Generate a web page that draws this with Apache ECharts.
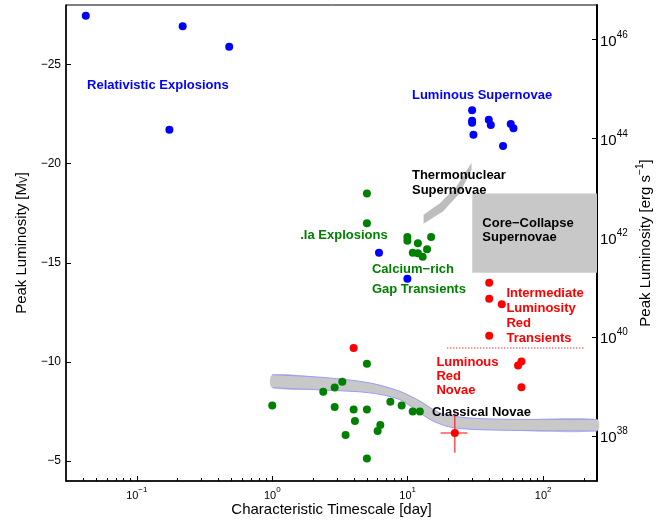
<!DOCTYPE html>
<html>
<head>
<meta charset="utf-8">
<script src="https://cdn.jsdelivr.net/npm/echarts@6.0.0/dist/echarts.min.js"></script>
<style>
  html, body { margin: 0; padding: 0; background: #fff; }
  #chart { width: 667px; height: 520px; }
</style>
</head>
<body>
<div id="chart"></div>
<script>
// ---- data (x: timescale in days, y: peak absolute magnitude M_V) ----
const blueEvents = [
  [0.042, -27.46], [0.218, -26.93], [0.481, -25.89], [0.174, -21.71],
  [29.9, -22.69], [29.9, -22.16], [29.9, -22.06], [30.6, -21.46], [39.7, -22.21],
  [41.1, -21.95], [57.7, -22.0], [60.4, -21.78], [50.6, -20.89],
  [6.14, -15.51], [9.95, -14.2]
];
const greenEvents = [
  [5.0, -18.49], [5.0, -17.0], [9.95, -16.3], [9.95, -16.11], [11.9, -15.99],
  [14.9, -16.3], [13.9, -15.69], [10.9, -15.51], [11.9, -15.48], [12.9, -15.31],
  [1.0, -7.81], [2.38, -8.5], [2.89, -8.72], [2.89, -7.73], [3.29, -9.0],
  [5.0, -9.91], [5.0, -7.61], [5.0, -5.13], [3.99, -7.61], [4.08, -7.02],
  [3.48, -6.32], [6.28, -6.82], [6.0, -6.52], [7.45, -8.0], [9.03, -7.81],
  [10.9, -7.51], [12.3, -7.51]
];
const redEvents = [
  [40, -14.0], [40, -13.19], [49.5, -12.91], [40, -11.32], [3.99, -10.71],
  [69.2, -10.03], [65.3, -9.82], [69.2, -8.73], [22.3, -6.42]
];
// error bars of the red point at 22 days
const errPoint = [22.3, -6.42];
const errX = [17.5, 27.6];
const errY = [-7.41, -5.43];
// ILRT lower bound (dotted)
const ilrtLine = [[19.6, -10.71], [200, -10.71]];

// shaded regions
const coreCollapseBox = [[30, -18.5], [250, -14.5]];
const thermoUpper = [[13.1, -17.42], [17.3, -18.01], [22.9, -18.84], [29.6, -20.05]];
const thermoLower = [[13.1, -16.97], [18.2, -17.59], [24.2, -18.51], [29.6, -19.68]];
const novaeUpper = [[1, -9.36], [2.5, -9.21], [5.2, -8.95], [8.7, -8.53], [12.3, -8.03],
  [17.2, -7.44], [27, -7.19], [57, -7.11], [250, -7.11]];
const novaeLower = [[1, -8.7], [2.5, -8.58], [5.2, -8.45], [8.7, -8.11], [12.3, -7.44],
  [15.4, -7.02], [21.6, -6.69], [43, -6.57], [250, -6.52]];

// text annotations: [day, mag (top of text), text, colour, lineHeight]
const annotations = [
  [0.0429, -24.34, 'Relativistic Explosions', '#0000ff', 15],
  [10.76, -23.83, 'Luminous Supernovae', '#0000ff', 15],
  [10.76, -19.81, 'Thermonuclear\nSupernovae', '#000000', 15],
  [35.6, -17.34, 'Core\u2212Collapse\nSupernovae', '#000000', 14.3],
  [1.61, -16.74, '.Ia Explosions', '#008000', 15],
  [5.45, -15.07, 'Calcium\u2212rich', '#008000', 15],
  [5.45, -14.06, 'Gap Transients', '#008000', 15],
  [53.6, -13.86, 'Intermediate\nLuminosity\nRed\nTransients', '#ff0000', 15.2],
  [16.3, -10.34, 'Luminous\nRed\nNovae', '#ff0000', 14],
  [15.1, -7.82, 'Classical Novae', '#000000', 15]
];

// axes
const xMin = 0.03, xMax = 250;
const xMajorTicks = [0.1, 1, 10, 100];
const xMinorTicks = [0.04, 0.05, 0.06, 0.07, 0.08, 0.09, 0.2, 0.3, 0.4, 0.5, 0.6, 0.7, 0.8, 0.9,
  2, 3, 4, 5, 6, 7, 8, 9, 20, 30, 40, 50, 60, 70, 80, 90, 200];
const yMin = -28, yMax = -4;
const yTicks = [-25, -20, -15, -10, -5];
const lumTicks = [38, 40, 42, 44, 46]; // log10 of erg/s
const magAt1e38 = -6.26;

const FONT = '"Liberation Sans", Arial, Helvetica, sans-serif';
const lg = (v) => Math.log10(v);
const lumAt = (m) => 38 - 0.4 * (m - magAt1e38);
const minus = (v) => (v < 0 ? '\u2212' + (-v) : '' + v);
const xy = (p) => [lg(p[0]), p[1]];

function polygonSeries(points, fill, stroke) {
  return {
    type: 'custom', silent: true, z: 1, data: [0],
    renderItem: function (params, api) {
      return {
        type: 'polygon',
        shape: { points: points.map((p) => api.coord(xy(p))) },
        style: { fill: fill, stroke: stroke || 'none', lineWidth: 1 }
      };
    }
  };
}

const novaeSeries = {
  type: 'custom', silent: true, z: 1, data: [0],
  renderItem: function (params, api) {
    const up = novaeUpper.map((p) => api.coord(xy(p)));
    const lo = novaeLower.map((p) => api.coord(xy(p)));
    return {
      type: 'group',
      children: [
        { type: 'polygon', shape: { points: up.concat(lo.slice().reverse()), smooth: 0.3 }, style: { fill: '#c8c8c8' } },
        { type: 'polyline', shape: { points: up, smooth: 0.3 }, style: { stroke: '#9a9aff', lineWidth: 1, fill: 'none' } },
        { type: 'polyline', shape: { points: lo, smooth: 0.3 }, style: { stroke: '#9a9aff', lineWidth: 1, fill: 'none' } }
      ]
    };
  }
};

const ccBox = [
  coreCollapseBox[0], [coreCollapseBox[1][0], coreCollapseBox[0][1]],
  coreCollapseBox[1], [coreCollapseBox[0][0], coreCollapseBox[1][1]]
];

const errorSeries = {
  type: 'custom', silent: true, z: 3, data: [0],
  renderItem: function (params, api) {
    const l = api.coord([lg(errX[0]), errPoint[1]]);
    const r = api.coord([lg(errX[1]), errPoint[1]]);
    const t = api.coord([lg(errPoint[0]), errY[0]]);
    const b = api.coord([lg(errPoint[0]), errY[1]]);
    return {
      type: 'group',
      children: [
        { type: 'line', shape: { x1: l[0], y1: l[1], x2: r[0], y2: r[1] }, style: { stroke: '#ff8080', lineWidth: 2 } },
        { type: 'line', shape: { x1: t[0], y1: t[1], x2: b[0], y2: b[1] }, style: { stroke: '#ff0000', lineWidth: 1 } }
      ]
    };
  }
};

const labelSeries = {
  type: 'custom', silent: true, z: 10,
  data: annotations.map((a) => [lg(a[0]), a[1]]),
  renderItem: function (params, api) {
    const a = annotations[params.dataIndex];
    const p = api.coord([api.value(0), api.value(1)]);
    return {
      type: 'text', x: p[0], y: p[1],
      style: {
        text: a[2], fill: a[3], fontSize: 13, fontWeight: 'bold', fontFamily: FONT,
        align: 'left', verticalAlign: 'top', lineHeight: a[4]
      }
    };
  }
};

function scatter(data, color) {
  return {
    type: 'scatter', z: 5, symbol: 'circle', symbolSize: 8,
    data: data.map(xy),
    itemStyle: { color: color, opacity: 1 }
  };
}

const powRich = {
  b: { fontSize: 11, fontFamily: FONT, color: '#000', verticalAlign: 'bottom' },
  s: { fontSize: 8, fontFamily: FONT, color: '#000', verticalAlign: 'bottom', padding: [0, 0, 7, 0] }
};
const powRichBig = {
  b: { fontSize: 15, fontFamily: FONT, color: '#000', verticalAlign: 'bottom' },
  s: { fontSize: 10, fontFamily: FONT, color: '#000', verticalAlign: 'bottom', padding: [0, 0, 9, 0] }
};

const chart = echarts.init(document.getElementById('chart'), null, { renderer: 'canvas' });
chart.setOption({
  animation: false,
  backgroundColor: '#fff',
  textStyle: { fontFamily: FONT },
  grid: {
    left: 66, right: 70, top: 5, bottom: 39,
    show: true, borderColor: '#000', borderWidth: 1,
    containLabel: false, outerBoundsMode: 'none'
  },
  xAxis: [
    {
      type: 'value', min: lg(xMin), max: lg(xMax), position: 'bottom',
      axisLine: { show: true, onZero: false, lineStyle: { color: '#000', width: 1.5 } },
      axisTick: { show: true, inside: true, length: 5, customValues: xMajorTicks.map(lg), lineStyle: { color: '#000' } },
      axisLabel: {
        customValues: xMajorTicks.map(lg), margin: 5, rich: powRich,
        formatter: (v) => '{b|10}{s|' + minus(Math.round(v)) + '}'
      },
      splitLine: { show: false },
      name: 'Characteristic Timescale [day]', nameLocation: 'middle', nameGap: 21,
      nameMoveOverlap: false,
      nameTextStyle: { fontSize: 15, color: '#000', fontFamily: FONT }
    },
    {
      type: 'value', min: lg(xMin), max: lg(xMax), position: 'bottom',
      axisLine: { show: false, onZero: false },
      axisTick: { show: true, inside: true, length: 3, customValues: xMinorTicks.map(lg), lineStyle: { color: '#000' } },
      axisLabel: { show: false },
      splitLine: { show: false }
    }
  ],
  yAxis: [
    {
      type: 'value', inverse: true, min: yMin, max: yMax, position: 'left',
      axisLine: { show: true, onZero: false, lineStyle: { color: '#000', width: 1.5 } },
      axisTick: { show: true, inside: true, length: 5, customValues: yTicks, lineStyle: { color: '#000' } },
      axisLabel: { customValues: yTicks, margin: 5, fontSize: 12, color: '#000', formatter: (v) => minus(v) },
      splitLine: { show: false },
      name: '{a|Peak Luminosity [M}{v|V}{a|]}', nameLocation: 'middle', nameGap: 37, nameRotate: 90,
      nameMoveOverlap: false,
      nameTextStyle: {
        rich: {
          a: { fontSize: 15, color: '#000', fontFamily: FONT, verticalAlign: 'bottom' },
          v: { fontSize: 10, color: '#000', fontFamily: FONT, verticalAlign: 'bottom', padding: [10, 0, 0, 0] }
        }
      }
    },
    {
      type: 'value', min: lumAt(yMax), max: lumAt(yMin), position: 'right',
      axisLine: { show: true, onZero: false, lineStyle: { color: '#000', width: 2 } },
      axisTick: { show: true, inside: true, length: 5, customValues: lumTicks, lineStyle: { color: '#000' } },
      axisLabel: {
        customValues: lumTicks, margin: 3, rich: powRichBig,
        formatter: (v) => '{b|10}{s|' + Math.round(v) + '}'
      },
      splitLine: { show: false },
      name: '{a|Peak Luminosity [erg s}{s|\u22121}{a|]}', nameLocation: 'middle', nameGap: 38, nameRotate: 90,
      nameMoveOverlap: false,
      nameTextStyle: {
        rich: {
          a: { fontSize: 15, color: '#000', fontFamily: FONT, verticalAlign: 'bottom' },
          s: { fontSize: 10, color: '#000', fontFamily: FONT, verticalAlign: 'bottom', padding: [0, 0, 8, 0] }
        }
      }
    }
  ],
  series: [
    polygonSeries(ccBox, '#c8c8c8'),
    polygonSeries(thermoUpper.concat(thermoLower.slice().reverse()), '#bdbdbd'),
    novaeSeries,
    {
      type: 'line', z: 2, symbol: 'none', silent: true,
      data: ilrtLine.map(xy),
      lineStyle: { color: '#ff6f6f', width: 2, type: [1, 2] }
    },
    errorSeries,
    scatter(blueEvents, '#0000ff'),
    scatter(greenEvents, '#008000'),
    scatter(redEvents, '#ff0000'),
    labelSeries
  ]
});
</script>
</body>
</html>
